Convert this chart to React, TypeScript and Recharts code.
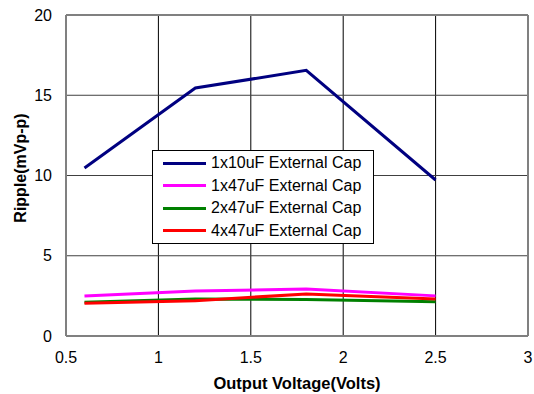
import React from 'react';
import {
    LineChart,
    Line,
    XAxis,
    YAxis,
    CartesianGrid,
    ReferenceLine,
    Label
} from 'recharts';

// Output voltage points (Volts)
const voltages = [0.6, 1.2, 1.8, 2.5];

// Ripple readings (mVp-p) per external cap config
const cap1x10 = [10.47, 15.45, 16.55, 9.72];
const cap1x47 = [2.49, 2.8, 2.93, 2.5];
const cap2x47 = [2.1, 2.3, 2.28, 2.14];
const cap4x47 = [2.04, 2.2, 2.62, 2.3];

const xTicks = [0.5, 1, 1.5, 2, 2.5, 3];
const yTicks = [0, 5, 10, 15, 20];

const SERIES = [
    { key: 'a', name: '1x10uF External Cap', color: '#000080', values: cap1x10 },
    { key: 'b', name: '1x47uF External Cap', color: '#FF00FF', values: cap1x47 },
    { key: 'c', name: '2x47uF External Cap', color: '#008000', values: cap2x47 },
    { key: 'd', name: '4x47uF External Cap', color: '#FF0000', values: cap4x47 },
];

const data = voltages.map((v, i) => {
    const row: Record<string, number> = { v };
    SERIES.forEach(s => { row[s.key] = s.values[i]; });
    return row;
});

const FONT = '"Liberation Sans", Arial, sans-serif';

// legend sits inside the plot, drawn as a plain overlay so it takes no layout space
function LegendBox() {
    return (
        <div style={{
            position: 'absolute',
            left: 152,
            top: 150,
            border: '1px solid #000',
            background: '#fff',
            width: 220,
            padding: '1px 0',
            fontFamily: FONT,
            fontSize: 16,
            color: '#000',
        }}>
            {SERIES.map(s => (
                <div key={s.key} style={{ display: 'flex', alignItems: 'center', height: 22.5 }}>
                    <div style={{ width: 43, height: 3, background: s.color, marginLeft: 10, marginRight: 5 }} />
                    <span>{s.name}</span>
                </div>
            ))}
        </div>
    );
}

// rotated y title, sits a little above the plot's middle like the original
function YTitle() {
    return (
        <text
            x={20}
            y={168}
            transform="rotate(-90 20 168)"
            textAnchor="middle"
            dominantBaseline="central"
            style={{ fill: '#000', fontFamily: FONT, fontSize: 16, fontWeight: 700 }}
        >
            Ripple(mVp-p)
        </text>
    );
}

export default function App() {
    return (
        <div style={{ position: 'absolute', left: 0, top: 0, width: 534, height: 394, background: '#fff' }}>
            <LineChart width={534} height={394} data={data} margin={{ top: 15, right: 6, bottom: 0, left: 0 }}>
                <CartesianGrid horizontal={false} stroke="#000" strokeWidth={1} />
                <CartesianGrid vertical={false} stroke="#404040" strokeWidth={1} />
                <XAxis
                    dataKey="v"
                    type="number"
                    domain={[0.5, 3]}
                    ticks={xTicks}
                    height={58}
                    tickSize={0}
                    tickMargin={16}
                    axisLine={{ stroke: '#808080', strokeWidth: 2 }}
                    tick={{ fill: '#000', fontFamily: FONT, fontSize: 16 }}
                >
                    <Label
                        value="Output Voltage(Volts)"
                        position="insideBottom"
                        offset={5}
                        style={{ fill: '#000', fontFamily: FONT, fontSize: 16.5, fontWeight: 700 }}
                    />
                </XAxis>
                <YAxis
                    type="number"
                    domain={[0, 20]}
                    ticks={yTicks}
                    width={66}
                    tickSize={0}
                    tickMargin={14}
                    axisLine={{ stroke: '#808080', strokeWidth: 2 }}
                    tick={{ fill: '#000', fontFamily: FONT, fontSize: 16 }}
                >
                    <Label content={() => <YTitle />} />
                </YAxis>
                <ReferenceLine y={20} stroke="#808080" strokeWidth={2} />
                <ReferenceLine x={3} stroke="#808080" strokeWidth={2} />
                {SERIES.map(s => (
                    <Line
                        key={s.key}
                        dataKey={s.key}
                        name={s.name}
                        stroke={s.color}
                        strokeWidth={3}
                        dot={false}
                        activeDot={false}
                        isAnimationActive={false}
                    />
                ))}
            </LineChart>
            <LegendBox />
        </div>
    );
}
